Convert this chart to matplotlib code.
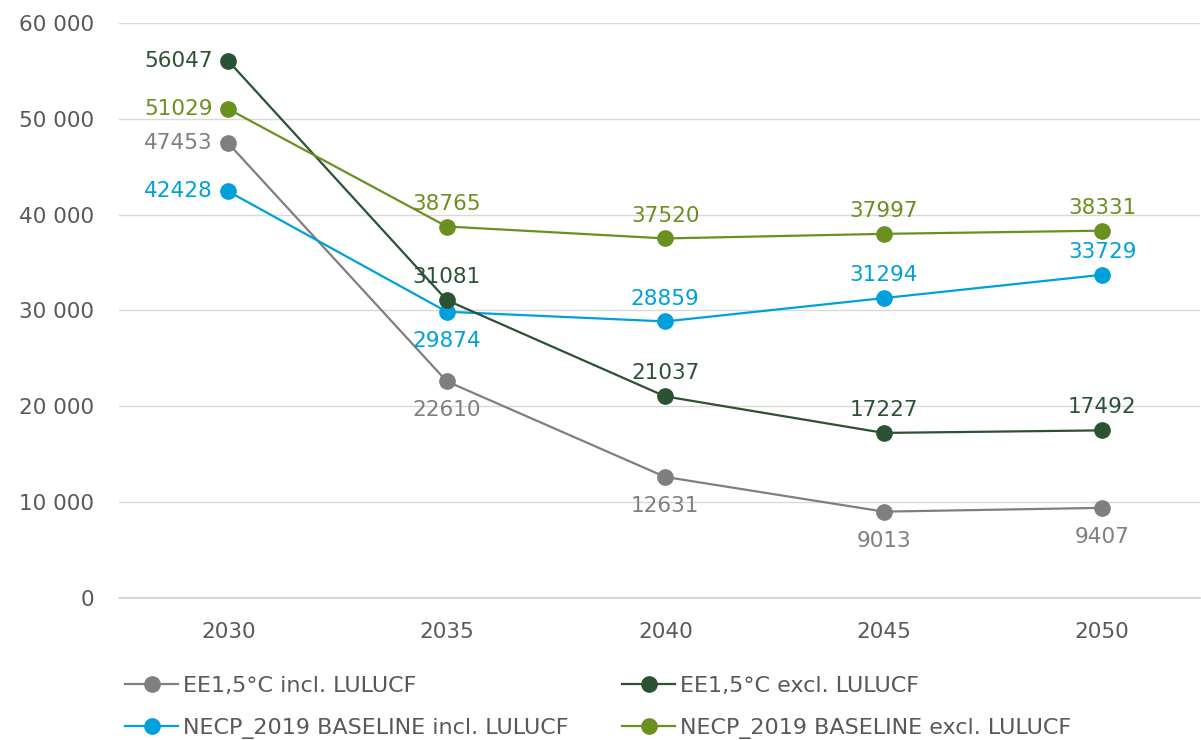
import matplotlib
matplotlib.use("Agg")
import matplotlib.pyplot as plt
from matplotlib.ticker import FuncFormatter

years = ["2030", "2035", "2040", "2045", "2050"]
ee_incl = [47453, 22610, 12631, 9013, 9407]
ee_excl = [56047, 31081, 21037, 17227, 17492]
necp_incl = [42428, 29874, 28859, 31294, 33729]
necp_excl = [51029, 38765, 37520, 37997, 38331]

series = [
    ("EE1,5°C incl. LULUCF", ee_incl, "#7f7f7f", ["left", "below", "below", "below", "below"]),
    ("NECP_2019 BASELINE incl. LULUCF", necp_incl, "#00a0dc", ["left", "below", "above", "above", "above"]),
    ("EE1,5°C excl. LULUCF", ee_excl, "#2b5233", ["left", "above", "above", "above", "above"]),
    ("NECP_2019 BASELINE excl. LULUCF", necp_excl, "#6a901f", ["left", "above", "above", "above", "above"]),
]

plt.rcParams['font.family'] = ['DejaVu Sans']
FS = 15.5
fig = plt.figure(figsize=(12.01, 7.40), dpi=100)
ax = fig.add_axes([119/1201, 142/740, 1081/1201, 575/740])
ax.set_xlim(-0.5, -0.5 + 1081/218.5)
ax.set_ylim(0, 60000)

x = list(range(len(years)))
handles = []
for name, vals, col, pos in series:
    h, = ax.plot(x, vals, color=col, lw=1.6, marker="o", ms=11, label=name, zorder=3, clip_on=False)
    handles.append(h)
    for xi, v, p in zip(x, vals, pos):
        if p == "left":
            ax.annotate(str(v), (xi, v), xytext=(-11, 0), textcoords="offset points",
                        ha="right", va="center", color=col, fontsize=FS)
        elif p == "above":
            ax.annotate(str(v), (xi, v), xytext=(0, 16.5), textcoords="offset points",
                        ha="center", va="center", color=col, fontsize=FS)
        else:
            ax.annotate(str(v), (xi, v), xytext=(0, -21), textcoords="offset points",
                        ha="center", va="center", color=col, fontsize=FS)

ax.set_yticks(range(0, 60001, 10000))
ax.yaxis.set_major_formatter(FuncFormatter(lambda v, p: f"{int(v):,}".replace(",", " ")))
ax.set_xticks(x)
ax.set_xticklabels(years)
ax.grid(axis="y", color="#d9d9d9", lw=1)
ax.axhline(0, color="#d0d0d0", lw=1.2, clip_on=False, zorder=1)
ax.set_axisbelow(True)
for s in ["top", "right", "left", "bottom"]:
    ax.spines[s].set_visible(False)
ax.tick_params(axis="both", length=0, labelsize=FS, colors="#595959")
ax.tick_params(axis="y", pad=18)
ax.tick_params(axis="x", pad=17)

LFS = 16
common = dict(loc="upper left", ncol=1, frameon=False, fontsize=LFS, handlelength=2.4,
              handletextpad=0.2, labelspacing=0.97, labelcolor="#595959",
              borderaxespad=0, borderpad=0)
leg1 = fig.legend(handles=handles[:2], bbox_to_anchor=(125/1201, 1 - 676/740), **common)
leg2 = fig.legend(handles=handles[2:], bbox_to_anchor=(622/1201, 1 - 676/740), **common)

fig.savefig("out.png", dpi=100)
